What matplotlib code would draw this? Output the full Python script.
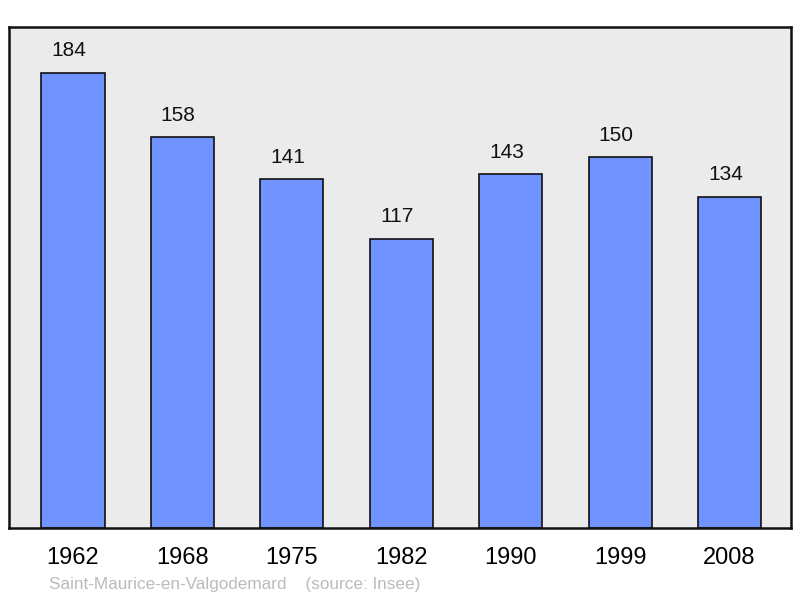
import matplotlib
matplotlib.use("Agg")
import matplotlib.pyplot as plt

years = ["1962", "1968", "1975", "1982", "1990", "1999", "2008"]
population = [184, 158, 141, 117, 143, 150, 134]

plt.rcParams['font.family'] = ['Liberation Sans', 'DejaVu Sans']

fig = plt.figure(figsize=(8.0, 5.98), dpi=100)
ax = fig.add_axes([9/800, 70/598, 782/800, 501/598])
ax.set_facecolor('#ebebeb')
x = list(range(len(years)))
ax.bar(x, population, width=0.576, color='#7093ff', edgecolor='#111111', linewidth=1.2, zorder=2)
ax.set_xlim(-0.585, 6.562)
ax.set_ylim(0, 202.6)
for xi, v in zip(x, population):
    ax.annotate(str(v), (xi, v), xytext=(-3, 9), textcoords='offset points',
                ha='center', va='bottom', fontsize=15, color='#111111')
ax.set_xticks(x)
ax.set_xticklabels(years, fontsize=17)
ax.tick_params(axis='x', length=0, pad=13.5)
ax.set_yticks([])
for s in ax.spines.values():
    s.set_linewidth(1.8)
    s.set_color('#111111')
fig.text(49/800, 1 - 585/598, "Saint-Maurice-en-Valgodemard    (source: Insee)",
         fontsize=12.3, color='#bbbbbb', ha='left', va='center')
fig.savefig("out.png", dpi=100)
